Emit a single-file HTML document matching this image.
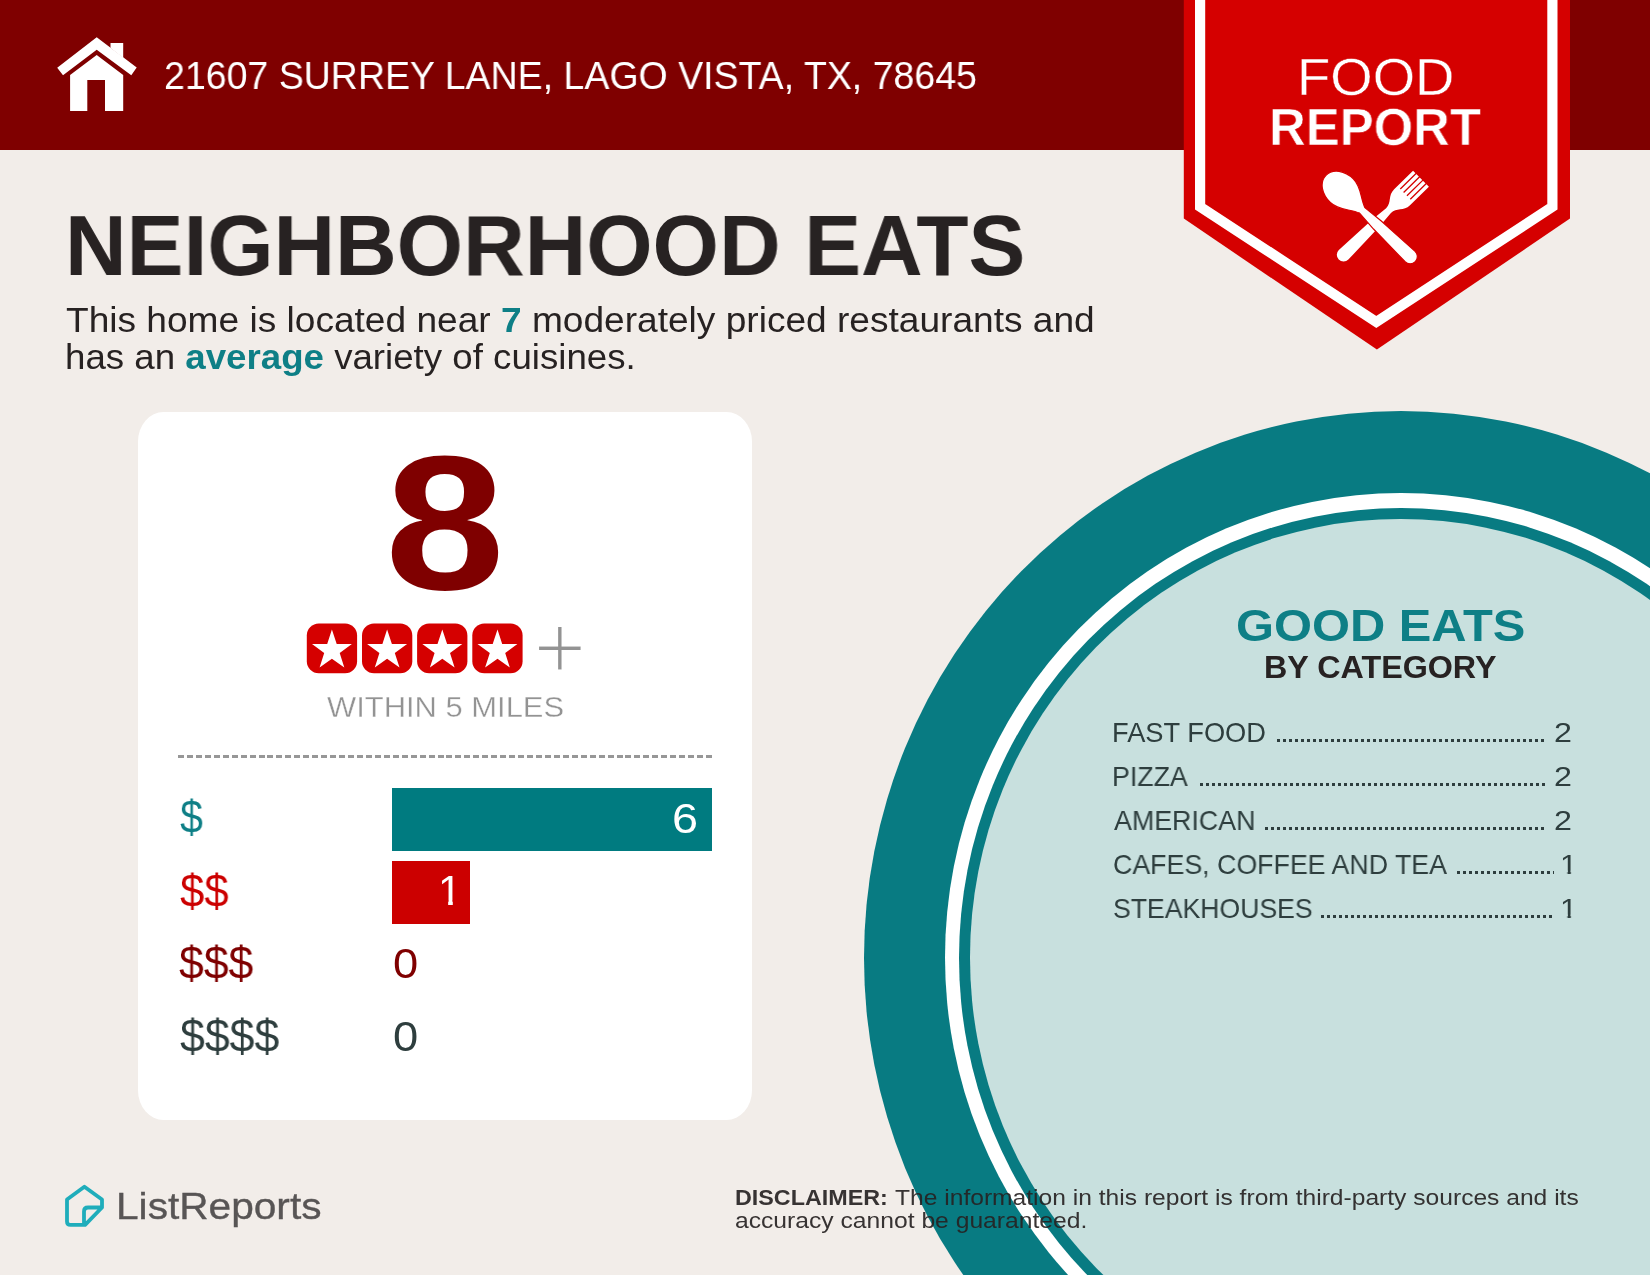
<!DOCTYPE html>
<html lang="en">
<head>
<meta charset="utf-8">
<title>Food Report - Neighborhood Eats</title>
<style>
html,body{margin:0;padding:0}
body{width:1650px;height:1275px;overflow:hidden;background:#f2ede9}
.page{position:relative;width:1650px;height:1275px;overflow:hidden;overflow:clip;background:#f2ede9;font-family:"Liberation Sans",sans-serif}
.grp,.abs,.tx,.c,.lead,svg{position:absolute}
.grp{left:0;top:0;width:0;height:0;margin:0;padding:0;list-style:none}
.tx{margin:0;padding:0;white-space:nowrap;line-height:1;transform-origin:0 0;will-change:transform}
.tx b{font-weight:700}
#sub1 b,#sub2 b{color:#0e7f86}
.c{border-radius:50%}
.bar-top{left:0;top:0;width:1650px;height:150px;background:#7f0000}
.card-bg{left:137.8px;top:411.8px;width:614px;height:708.4px;background:#fff;border-radius:25.5px/29.5px}
.dash{left:178px;top:754.8px;width:534px;height:3px;background:repeating-linear-gradient(90deg,#979797 0,#979797 6px,transparent 6px,transparent 8.95px)}
.bar{left:392px;height:62.5px}
.lead{height:3px;background:repeating-linear-gradient(90deg,#2e3e3e 0,#2e3e3e 3px,transparent 3px,transparent 6px)}
.disclaimer .tx{opacity:.92}
</style>
</head>
<body>
<div class="page">

<!-- "Good eats by category" plate -->
<aside class="grp plate">
<div class="c" style="left:863.5px;top:410.5px;width:1074.4px;height:1094.2px;background:#087b82"></div>
<div class="c" style="left:944.7px;top:493.2px;width:912.0px;height:928.8px;background:#fff"></div>
<div class="c" style="left:958.7px;top:507.5px;width:884.0px;height:900.2px;background:#087b82"></div>
<div class="c" style="left:970.4px;top:519.4px;width:860.6px;height:876.4px;background:#c8e0de"></div>
<h2 class="tx" id="ge" style="left:1236.3px;top:602.6px;font-size:45.22px;font-weight:700;color:#0e7f86;transform:scaleX(1.0798);">GOOD EATS</h2>
<h3 class="tx" id="bc" style="left:1264.4px;top:653.3px;font-size:30.83px;font-weight:700;color:#272222;transform:scaleX(1.0468);">BY CATEGORY</h3>
<ul class="grp categories">
<li><span class="tx" id="l0" style="left:1112.2px;top:718.8px;font-size:27.26px;font-weight:400;color:#2e3e3e;transform:scaleX(1.0004);">FAST FOOD</span><span class="lead" style="left:1277.0px;top:738.7px;width:267.6px"></span><span class="tx" id="v0" style="left:1554.4px;top:720.0px;font-size:27.00px;font-weight:400;color:#2e3e3e;transform:scaleX(1.1951);">2</span></li>
<li><span class="tx" id="l1" style="left:1111.5px;top:763.2px;font-size:27.26px;font-weight:400;color:#2e3e3e;transform:scaleX(0.9815);">PIZZA</span><span class="lead" style="left:1199.8px;top:782.8px;width:344.8px"></span><span class="tx" id="v1" style="left:1554.4px;top:764.4px;font-size:27.00px;font-weight:400;color:#2e3e3e;transform:scaleX(1.1951);">2</span></li>
<li><span class="tx" id="l2" style="left:1114.0px;top:806.6px;font-size:27.26px;font-weight:400;color:#2e3e3e;transform:scaleX(0.9830);">AMERICAN</span><span class="lead" style="left:1265.0px;top:826.9px;width:279.6px"></span><span class="tx" id="v2" style="left:1554.4px;top:807.8px;font-size:27.00px;font-weight:400;color:#2e3e3e;transform:scaleX(1.1951);">2</span></li>
<li><span class="tx" id="l3" style="left:1112.8px;top:851.0px;font-size:27.26px;font-weight:400;color:#2e3e3e;transform:scaleX(0.9818);">CAFES, COFFEE AND TEA</span><span class="lead" style="left:1457.0px;top:871.0px;width:97.0px"></span><span class="tx" id="v3" style="left:1560.0px;top:851.0px;font-size:27.26px;font-weight:400;color:#2e3e3e;transform:scaleX(1.1374);clip-path:polygon(0 0,100% 0,100% .715em,.35em .715em,.35em 1em,.24em 1em,.24em .715em,0 .715em);">1</span></li>
<li><span class="tx" id="l4" style="left:1112.8px;top:895.4px;font-size:27.26px;font-weight:400;color:#2e3e3e;transform:scaleX(0.9765);">STEAKHOUSES</span><span class="lead" style="left:1321.0px;top:915.1px;width:233.0px"></span><span class="tx" id="v4" style="left:1560.0px;top:895.4px;font-size:27.26px;font-weight:400;color:#2e3e3e;transform:scaleX(1.1374);clip-path:polygon(0 0,100% 0,100% .715em,.35em .715em,.35em 1em,.24em 1em,.24em .715em,0 .715em);">1</span></li>
</ul>
</aside>

<!-- header bar with address and Food Report badge -->
<header class="grp">
<div class="abs bar-top"></div>
<svg class="home-icon" width="100" height="90" viewBox="50 30 100 90" style="left:50px;top:30px">
 <g fill="#fff">
  <path d="M96.7,37.2 L136.7,67.5 L131.3,75.3 L96.7,49.8 L63,75.3 L57.2,67.8 Z"/>
  <path d="M110.5,43 H123.2 V58 L110.5,48 Z"/>
  <path d="M96.7,54.9 L123.2,75 V110.9 H105 V80 H87.3 V110.9 H70.1 V75 Z"/>
 </g>
</svg>
<p class="tx" id="addr" style="left:163.9px;top:57.3px;font-size:38.47px;font-weight:400;color:#fff;transform:scaleX(0.9748);">21607 SURREY LANE, LAGO VISTA, TX, 78645</p>
<div class="grp badge">
<svg width="420" height="360" viewBox="1170 0 420 360" style="left:1170px;top:0">
 <path d="M1183.8,0 V218.6 L1376.9,349.6 L1570,218.6 V0 Z" fill="#d50000"/>
 <path d="M1200.1,-10 V206.8 L1376.3,321.9 L1552.4,206.8 V-10" fill="none" stroke="#fff" stroke-width="10.2" stroke-linejoin="miter"/>
 <g transform="translate(1376.4,222.5) rotate(45.5)" fill="#fff">
  <path d="M-11.3,-62.5 H11.3 V-36 C11.3,-27 3.4,-25 3.4,-17 L5,0 L6.8,46 A6.8,6.8 0 0 1 -6.8,46 L-5,0 L-3.4,-17 C-3.4,-25 -11.3,-27 -11.3,-36 Z"/>
  <path d="M-7.14,-64 V-40.5 M-2.38,-64 V-40.5 M2.38,-64 V-40.5 M7.14,-64 V-40.5" stroke="#d50000" stroke-width="1.3" fill="none"/>
 </g>
 <g transform="translate(1377.4,225) rotate(-46)" fill="#fff" stroke="#d50000" stroke-width="1.2">
  <path d="M0,-71.5 C10,-71.5 16.5,-61 16.5,-49.5 C16.5,-38 7.5,-31 3.8,-21 L5.6,0 L7.2,45.5 A7.2,7.2 0 0 1 -7.2,45.5 L-5.6,0 L-3.8,-21 C-7.5,-31 -16.5,-38 -16.5,-49.5 C-16.5,-61 -10,-71.5 0,-71.5 Z"/>
 </g>
</svg>
<div class="tx" id="food" style="left:1296.7px;top:50.7px;font-size:52.49px;font-weight:400;color:#fff;transform:scaleX(1.0377);-webkit-text-stroke:0.4px #d50000;">FOOD</div>
<div class="tx" id="report" style="left:1269.4px;top:100.5px;font-size:52.49px;font-weight:700;color:#fff;transform:scaleX(0.9685);-webkit-text-stroke:0.55px #d50000;">REPORT</div>
</div>
</header>

<main class="grp">
<h1 class="tx" id="title" style="left:64.9px;top:202.9px;font-size:85.59px;font-weight:700;color:#272222;transform:scaleX(0.9966);">NEIGHBORHOOD EATS</h1>
<p class="tx" id="sub1" style="left:65.8px;top:303.2px;font-size:34.64px;font-weight:400;color:#272222;transform:scaleX(1.0711);">This home is located near <b>7</b> moderately priced restaurants and</p>
<p class="tx" id="sub2" style="left:64.6px;top:340.4px;font-size:34.64px;font-weight:400;color:#272222;transform:scaleX(1.0590);">has an <b>average</b> variety of cuisines.</p>

<!-- score card -->
<section class="grp card">
<div class="abs card-bg"></div>
<div class="tx" id="big8" style="left:385.4px;top:427.0px;font-size:191.89px;font-weight:700;color:#7f0000;transform:scaleX(1.1223);">8</div>
<svg class="stars" width="300" height="60" viewBox="300 620 300 60" style="left:300px;top:620px">
 <rect x="306.8" y="623.6" width="50.3" height="49.6" rx="12" fill="#d50000"/><polygon points="331.9,629.6 336.7,644.0 351.9,644.1 339.7,653.1 344.3,667.6 331.9,658.7 319.6,667.6 324.2,653.1 312.0,644.1 327.2,644.0" fill="#fff"/>
 <rect x="362.0" y="623.6" width="50.3" height="49.6" rx="12" fill="#d50000"/><polygon points="387.1,629.6 391.9,644.0 407.1,644.1 394.8,653.1 399.5,667.6 387.1,658.7 374.8,667.6 379.4,653.1 367.1,644.1 382.4,644.0" fill="#fff"/>
 <rect x="417.1" y="623.6" width="50.3" height="49.6" rx="12" fill="#d50000"/><polygon points="442.3,629.6 447.1,644.0 462.3,644.1 450.0,653.1 454.6,667.6 442.3,658.7 429.9,667.6 434.6,653.1 422.3,644.1 437.5,644.0" fill="#fff"/>
 <rect x="472.3" y="623.6" width="50.3" height="49.6" rx="12" fill="#d50000"/><polygon points="497.5,629.6 502.2,644.0 517.4,644.1 505.2,653.1 509.8,667.6 497.5,658.7 485.1,667.6 489.8,653.1 477.5,644.1 492.7,644.0" fill="#fff"/>
</svg>
<div class="tx" id="plus" style="left:533px;top:600.6px;font-size:92px;color:#939393;-webkit-text-stroke:3.1px #fff">+</div>
<div class="tx" id="within" style="left:327.3px;top:691.8px;font-size:30.37px;font-weight:400;color:#939393;transform:scaleX(1.0186);-webkit-text-stroke:0.35px #fff;">WITHIN 5 MILES</div>
<div class="abs dash"></div>
<ul class="grp prices">
<li><div class="tx" id="d1" style="left:179.6px;top:794.2px;font-size:46.17px;font-weight:400;color:#0e7f86;transform:scaleX(0.8922);">$</div><div class="abs bar" style="top:788px;width:320px;background:#007b80"></div><div class="tx" id="n6" style="left:671.5px;top:797.8px;font-size:41.80px;font-weight:400;color:#fff;transform:scaleX(1.1215);">6</div></li>
<li><div class="tx" id="d2" style="left:179.5px;top:867.6px;font-size:46.17px;font-weight:400;color:#cc0000;transform:scaleX(0.9463);">$$</div><div class="abs bar" style="top:861.2px;width:77.8px;background:#cc0000"></div><div class="tx" id="n1" style="left:438.0px;top:870.3px;font-size:41.98px;font-weight:400;color:#fff;transform:scaleX(1.0068);clip-path:polygon(0 0,100% 0,100% .715em,.35em .715em,.35em 1em,.24em 1em,.24em .715em,0 .715em);">1</div></li>
<li><div class="tx" id="d3" style="left:179.3px;top:940.2px;font-size:46.17px;font-weight:400;color:#7f0000;transform:scaleX(0.9658);">$$$</div><div class="tx" id="n03" style="left:392.7px;top:942.8px;font-size:42.36px;font-weight:400;color:#7f0000;transform:scaleX(1.0700);">0</div></li>
<li><div class="tx" id="d4" style="left:179.5px;top:1013.2px;font-size:46.17px;font-weight:400;color:#2e3e3e;transform:scaleX(0.9673);">$$$$</div><div class="tx" id="n04" style="left:392.7px;top:1015.8px;font-size:42.36px;font-weight:400;color:#2e3e3e;transform:scaleX(1.0700);">0</div></li>
</ul>
</section>
</main>

<footer class="grp">
<svg class="logo-icon" width="60" height="60" viewBox="55 1175 60 60" style="left:55px;top:1175px">
 <path d="M84.4,1186.8 L102,1199.5 V1207.5 L85.1,1224.9 H70.5 Q67,1224.9 67,1221.4 V1199.5 Z M101,1207.5 H88 Q84,1207.5 84,1211.5 V1223.5" fill="none" stroke="#1fadbb" stroke-width="3.8" stroke-linejoin="round" stroke-linecap="round"/>
</svg>
<div class="tx" id="logo" style="left:116.2px;top:1189.4px;font-size:36.84px;font-weight:400;color:#585555;transform:scaleX(1.1033);-webkit-text-stroke:0.35px #585555;">ListReports</div>
<div class="grp disclaimer">
<div class="tx" id="disc0" style="left:735.4px;top:1187.2px;font-size:22.56px;font-weight:700;color:#272222;transform:scaleX(1.0342);">DISCLAIMER:</div>
<p class="tx" id="disc1" style="left:895.4px;top:1187.2px;font-size:22.56px;font-weight:400;color:#272222;transform:scaleX(1.0913);">The information in this report is from third-party sources and its</p>
<p class="tx" id="disc2" style="left:735.3px;top:1210.4px;font-size:22.56px;font-weight:400;color:#272222;transform:scaleX(1.0936);">accuracy cannot be guaranteed.</p>
</div>
</footer>
</div>
</body>
</html>
